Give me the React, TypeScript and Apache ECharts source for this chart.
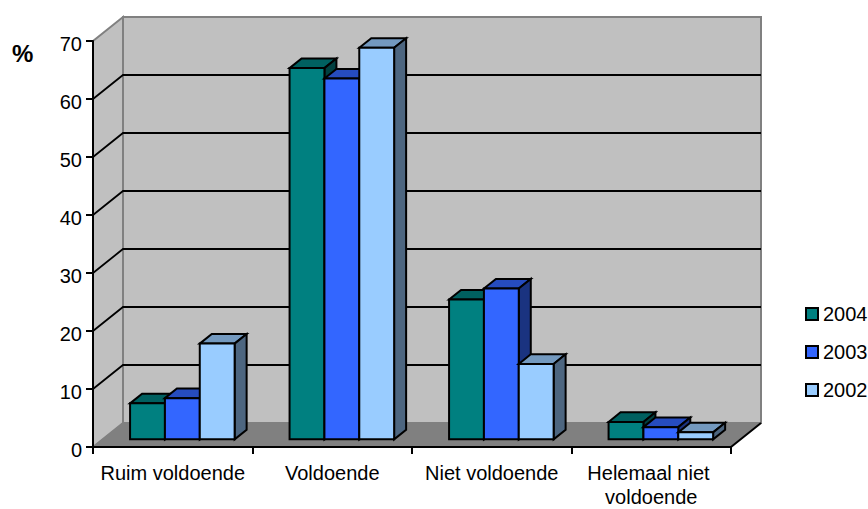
import React, { useEffect, useRef } from "react";
import * as echarts from "echarts";

const categories = ["Ruim voldoende", "Voldoende", "Niet voldoende", "Helemaal niet voldoende"];
const years = ["2004", "2003", "2002"];
const values2004 = [6.2, 64, 24.1, 3];
const values2003 = [7.1, 62.2, 26, 2.1];
const values2002 = [16.5, 67.5, 13, 1.2];
const gridValues = [10, 20, 30, 40, 50, 60];
const yTicks = { min: 0, max: 70, interval: 10 };

const FONT = '"Liberation Sans", Arial, sans-serif';
const DX = 30;
const DY = -24;
const seriesValues = [values2004, values2003, values2002];
const frontColors = ["#008080", "#3366FF", "#99CCFF"];
const topColors = ["#006060", "#264CBF", "#7399BF"];
const sideColors = ["#004040", "#1A3380", "#4D6680"];

function wallItem(_p: any, api: any) {
  const band = api.size([1, 0])[0];
  const x0 = api.coord([0, 0])[0] - band / 2;
  const x1 = api.coord([categories.length - 1, 0])[0] + band / 2;
  const y0 = api.coord([0, yTicks.min])[1];
  const yT = api.coord([0, yTicks.max])[1];
  return {
    type: "group",
    children: [
      {
        type: "polygon",
        shape: { points: [[x0 + DX, yT + DY], [x1 + DX, yT + DY], [x1 + DX, y0 + DY], [x0 + DX, y0 + DY]] },
        style: { fill: "#C0C0C0", stroke: "#808080", lineWidth: 2 },
      },
      {
        type: "polygon",
        shape: { points: [[x0, yT], [x0 + DX, yT + DY], [x0 + DX, y0 + DY], [x0, y0]] },
        style: { fill: "#C0C0C0", stroke: "#808080", lineWidth: 2 },
      },
      {
        type: "polygon",
        shape: { points: [[x0, y0], [x0 + DX, y0 + DY], [x1 + DX, y0 + DY], [x1, y0]] },
        style: { fill: "#808080", stroke: "#808080", lineWidth: 1 },
      },
      {
        type: "line",
        shape: { x1: x1, y1: y0, x2: x1 + DX, y2: y0 + DY },
        style: { stroke: "#000", lineWidth: 2 },
      },
    ],
  };
}

function gridItem(_p: any, api: any) {
  const band = api.size([1, 0])[0];
  const x0 = api.coord([0, 0])[0] - band / 2;
  const x1 = api.coord([categories.length - 1, 0])[0] + band / 2;
  const y = api.coord([0, api.value(1)])[1];
  return {
    type: "polyline",
    shape: { points: [[x0, y], [x0 + DX, y + DY], [x1 + DX, y + DY]] },
    style: { fill: "none", stroke: "#000", lineWidth: 1.8 },
  };
}

const barItem = (s: number) => (_p: any, api: any) => {
  const i = api.value(0);
  const c = api.coord([i, api.value(1)]);
  const b = api.coord([i, 0]);
  const band = api.size([1, 0])[0];
  const w = band * 0.2185;
  const fx = 0.32;
  const bx = 0.72;
  const xL = c[0] - 1.5 * w + s * w + DX * fx;
  const xR = xL + w;
  const yT = c[1] + DY * fx;
  const yB = b[1] + DY * fx;
  const ox = DX * (bx - fx);
  const oy = DY * (bx - fx);
  const stroke = { stroke: "#000", lineWidth: 2, lineJoin: "miter" };
  return {
    type: "group",
    children: [
      {
        type: "polygon",
        shape: { points: [[xL, yT], [xL + ox, yT + oy], [xR + ox, yT + oy], [xR, yT]] },
        style: { fill: topColors[s], ...stroke },
      },
      {
        type: "polygon",
        shape: { points: [[xR, yT], [xR + ox, yT + oy], [xR + ox, yB + oy], [xR, yB]] },
        style: { fill: sideColors[s], ...stroke },
      },
      {
        type: "polygon",
        shape: { points: [[xL, yT], [xR, yT], [xR, yB], [xL, yB]] },
        style: { fill: frontColors[s], ...stroke },
      },
    ],
  };
};

export default function App() {
  const ref = useRef<HTMLDivElement>(null);
  useEffect(() => {
    document.body.style.margin = "0";
    const chart = echarts.init(ref.current!, undefined, { renderer: "svg" });
    chart.setOption({
      animation: false,
      backgroundColor: "#fff",
      textStyle: { fontFamily: FONT },
      grid: { left: 93, top: 41, width: 638, height: 406, containLabel: false, outerBoundsMode: "none" },
      xAxis: {
        type: "category",
        data: categories,
        z: 5,
        axisLine: { show: true, lineStyle: { color: "#000", width: 2 } },
        axisTick: { show: true, length: 7, lineStyle: { color: "#000", width: 2 } },
        axisLabel: {
          color: "#000",
          fontSize: 20,
          fontFamily: FONT,
          margin: 14,
          width: 155,
          overflow: "break",
          lineHeight: 24,
          interval: 0,
        },
      },
      yAxis: {
        type: "value",
        min: yTicks.min,
        max: yTicks.max,
        interval: yTicks.interval,
        z: 5,
        splitLine: { show: false },
        axisLine: { show: true, lineStyle: { color: "#000", width: 2 } },
        axisTick: { show: true, length: 7, lineStyle: { color: "#000", width: 2 } },
        axisLabel: {
          color: "#000",
          fontSize: 20,
          fontFamily: FONT,
          margin: 11,
          verticalAlign: "top",
          padding: [-7, 0, 0, 0],
        },
      },
      legend: {
        orient: "vertical",
        left: 805,
        top: 304,
        data: years,
        itemWidth: 12,
        itemHeight: 12,
        itemGap: 18,
        padding: 0,
        icon: "rect",
        textStyle: { color: "#000", fontSize: 20, fontFamily: FONT },
        selectedMode: false,
      },
      graphic: [
        {
          type: "text",
          left: 12,
          top: 41,
          style: { text: "%", fill: "#000", font: `bold 24px ${FONT}` },
        },
      ],
      series: [
        {
          type: "custom",
          name: "walls",
          silent: true,
          z: 1,
          data: [[0, 0]],
          encode: { x: 0, y: 1 },
          renderItem: wallItem,
        },
        {
          type: "custom",
          name: "grid",
          silent: true,
          z: 1,
          data: gridValues.map((v) => [0, v]),
          encode: { x: 0, y: 1 },
          renderItem: gridItem,
        },
        ...years.map((y, s) => ({
          type: "custom",
          name: y,
          silent: true,
          z: 2 + s,
          data: seriesValues[s].map((v, i) => [i, v]),
          encode: { x: 0, y: 1 },
          itemStyle: { color: frontColors[s], borderColor: "#000", borderWidth: 2 },
          renderItem: barItem(s),
        })),
      ],
    });
    return () => chart.dispose();
  }, []);
  return <div ref={ref} style={{ width: 868, height: 509, overflow: "hidden" }} />;
}
